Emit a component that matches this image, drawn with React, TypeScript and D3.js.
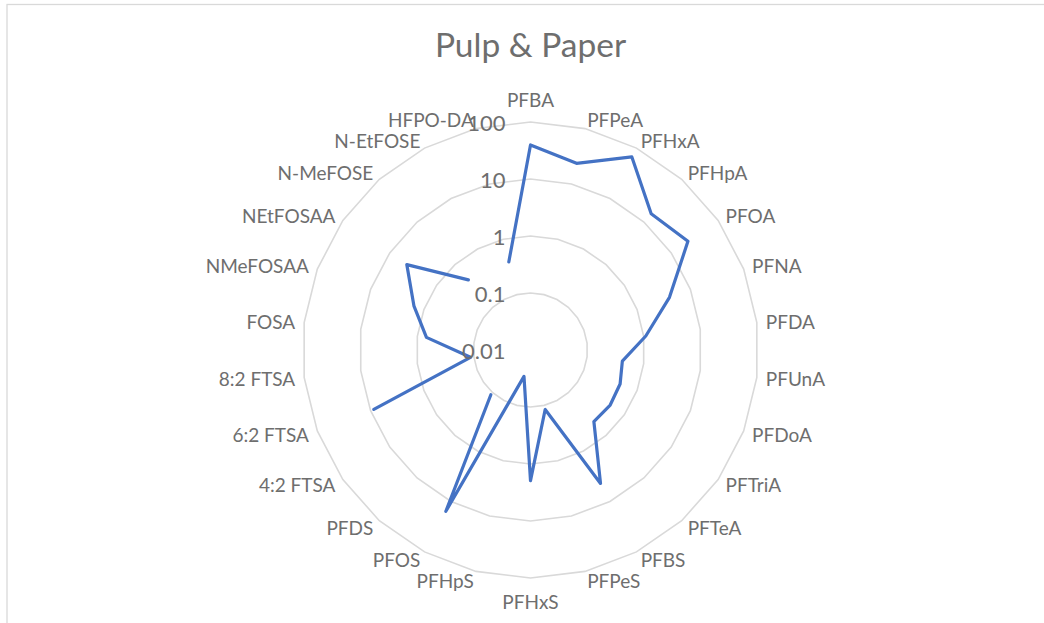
import React from 'react';
import * as d3 from 'd3';

const categories = [
  'PFBA', 'PFPeA', 'PFHxA', 'PFHpA', 'PFOA', 'PFNA', 'PFDA', 'PFUnA', 'PFDoA',
  'PFTriA', 'PFTeA', 'PFBS', 'PFPeS', 'PFHxS', 'PFHpS', 'PFOS', 'PFDS',
  '4:2 FTSA', '6:2 FTSA', '8:2 FTSA', 'FOSA', 'NMeFOSAA', 'NEtFOSAA',
  'N-MeFOSE', 'N-EtFOSE', 'HFPO-DA',
];

// null = no value (gap in the line)
const pulpPaper: (number | null)[] = [
  39.5, 23.6, 67, 15.6, 22.7, 4.05, 1.09, 0.42, 0.48,
  0.5, 0.475, 4.4, 0.119, 1.96, 0.03, 15.7, 0.112,
  null, 8.7, 0.115, 0.69, 1.54, 4.33,
  0.44, null, 0.39,
];

const tickValues = [100, 10, 1, 0.1, 0.01];
const tickLabels = ['100', '10', '1', '0.1', '0.01'];
const gridValues = [0.1, 1, 10, 100];

const title = 'Pulp & Paper';

export default function App() {
  const width = 1044;
  const height = 623;
  const cx = 530.5;
  const cy = 350;
  const outerR = 228;
  const font = 'Lato, "Open Sans", sans-serif';
  const textColor = '#6e6e6e';

  const n = categories.length;
  const angle = (i: number) => (i * 2 * Math.PI) / n;

  const rScale = d3.scaleLog().domain([0.01, 100]).range([0, outerR]);

  // grid rings are polygons through each category spoke
  const ring = d3.lineRadial<number>()
    .angle((_, i) => angle(i))
    .radius(d => rScale(d))
    .curve(d3.curveLinearClosed);

  const line = d3.lineRadial<number | null>()
    .defined(d => d != null)
    .angle((_, i) => angle(i))
    .radius(d => rScale(d as number))
    .curve(d3.curveLinear);

  // close the loop: repeat first point at the end
  const closed = [...pulpPaper, pulpPaper[0]];

  return (
    <svg
      width={width}
      height={height}
      style={{ position: 'absolute', left: 0, top: 0, background: '#ffffff' }}
    >
      {/* chart border */}
      <rect x={7} y={4.5} width={1060} height={640} fill='#ffffff' stroke='#d9d9d9' strokeWidth={1.3} />

      {/* title */}
      <text
        x={cx}
        y={57}
        textAnchor='middle'
        fontFamily={font}
        fontSize={33.5}
        fill={textColor}
      >
        {title}
      </text>

      <g transform={`translate(${cx},${cy})`}>
        {/* rings */}
        {gridValues.map(v => (
          <path
            key={v}
            d={ring(categories.map(() => v)) || ''}
            fill='none'
            stroke='#d9d9d9'
            strokeWidth={1.6}
          />
        ))}

        {/* series */}
        <path
          d={line(closed) || ''}
          fill='none'
          stroke='#4472c4'
          strokeWidth={3.2}
          strokeLinejoin='round'
          strokeLinecap='round'
        />

        {/* value axis labels */}
        {tickValues.map((v, i) => (
          <text
            key={v}
            x={-25}
            y={-rScale(v)}
            textAnchor='end'
            dominantBaseline='central'
            fontFamily={font}
            fontSize={22}
            fill={textColor}
          >
            {tickLabels[i]}
          </text>
        ))}

        {/* category labels */}
        {categories.map((c, i) => {
          const a = angle(i);
          const s = Math.sin(a);
          const co = Math.cos(a);
          const vertical = Math.abs(s) < 0.01;
          const r = vertical ? 251 : 237;
          return (
            <text
              key={c}
              x={r * s}
              y={-r * co}
              textAnchor={vertical ? 'middle' : s > 0 ? 'start' : 'end'}
              dominantBaseline='central'
              fontFamily={font}
              fontSize={19}
              fill={textColor}
            >
              {c}
            </text>
          );
        })}
      </g>
    </svg>
  );
}
